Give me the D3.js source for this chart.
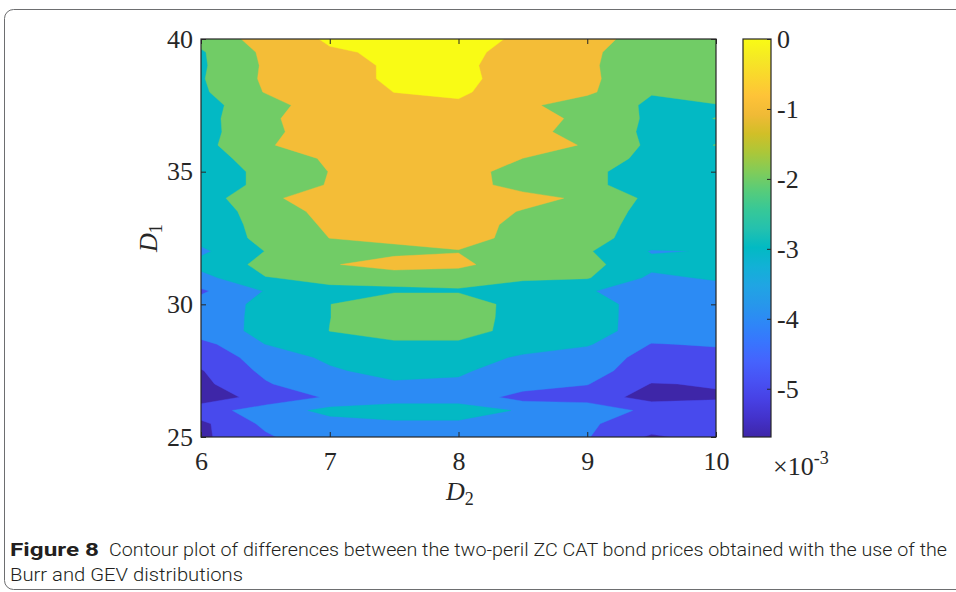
<!DOCTYPE html>
<html>
<head>
<meta charset="utf-8">
<script src="https://cdnjs.cloudflare.com/ajax/libs/d3/7.8.5/d3.min.js"></script>
<style>
  body { margin: 0; background: #fff; }
  svg { display: block; }
</style>
</head>
<body>
<div id="plot"></div>
<script>
const w = 956;
const h = 592;
const plot = {left: 201, right: 716, top: 39, bottom: 437};
const cbar = {left: 743, right: 771};

// grid of the contour plot
const d2Values = [6, 6.5, 7, 7.5, 8, 8.5, 9, 9.5, 10];
const d1Values = [25, 25.5, 26, 26.5, 27, 27.5, 28, 28.5, 29, 29.5, 30, 30.5, 31, 31.5, 32, 32.5,
  33, 33.5, 34, 34.5, 35, 35.5, 36, 36.5, 37, 37.5, 38, 38.5, 39, 39.5, 40];

// price differences in units of 1e-3, one row per D1 (25 -> 40), one column per D2 (6 -> 10)
const diffRows = [
  [-5.19, -4.15, -3.24, -3.30, -3.40, -3.60, -3.94, -5.15, -4.63],
  [-5.22, -3.79, -3.40, -3.11, -3.11, -3.50, -3.90, -4.40, -4.50],
  [-4.40, -3.58, -2.70, -2.69, -2.69, -3.07, -3.28, -4.30, -4.60],
  [-5.59, -4.60, -3.89, -3.30, -3.30, -4.41, -4.50, -5.37, -5.10],
  [-5.24, -4.10, -3.25, -3.15, -3.17, -3.50, -3.96, -5.04, -4.94],
  [-5.06, -3.77, -3.15, -2.61, -2.85, -3.52, -3.70, -4.43, -4.50],
  [-4.50, -3.67, -2.78, -2.40, -2.50, -3.15, -3.50, -4.31, -4.30],
  [-4.33, -2.99, -2.40, -2.16, -2.12, -2.50, -2.90, -4.04, -3.92],
  [-3.40, -2.80, -1.99, -1.60, -1.70, -2.27, -2.60, -3.45, -3.50],
  [-3.50, -2.76, -2.01, -1.50, -1.55, -2.34, -2.60, -3.43, -3.50],
  [-3.60, -2.74, -2.01, -1.51, -1.51, -2.35, -2.60, -3.42, -3.50],
  [-4.15, -2.95, -2.14, -2.08, -2.08, -2.71, -2.95, -3.32, -3.40],
  [-3.34, -2.03, -1.85, -1.85, -1.70, -1.80, -1.93, -3.19, -2.89],
  [-2.66, -1.75, -1.12, -0.40, -0.73, -1.73, -1.70, -2.73, -2.80],
  [-3.19, -1.98, -1.50, -1.37, -1.04, -1.30, -1.90, -3.07, -2.95],
  [-2.66, -1.75, -0.99, -0.70, -0.70, -1.24, -1.75, -2.35, -2.50],
  [-2.78, -1.60, -0.86, -0.50, -0.50, -1.29, -1.70, -2.28, -2.40],
  [-2.66, -1.50, -0.71, -0.40, -0.40, -1.07, -1.50, -2.29, -2.40],
  [-2.51, -1.20, -0.49, -0.40, -0.40, -0.60, -1.23, -2.22, -2.30],
  [-2.70, -1.70, -0.93, -0.50, -0.50, -1.44, -1.80, -2.43, -2.50],
  [-2.70, -1.70, -0.98, -0.50, -0.50, -1.50, -1.80, -2.43, -2.50],
  [-2.48, -1.50, -0.88, -0.40, -0.40, -1.005, -1.50, -2.27, -2.30],
  [-2.32, -1.10, -0.45, -0.30, -0.20, -0.50, -1.09, -2.20, -1.99],
  [-2.36, -1.25, -0.44, -0.25, -0.15, -0.60, -1.47, -2.17, -2.15],
  [-2.36, -1.20, -0.37, -0.20, -0.10, -0.60, -1.23, -2.18, -1.99],
  [-2.30, -1.47, -0.30, -0.20, -0.03, -0.80, -1.51, -2.13, -2.08],
  [-2.16, -0.95, -0.30, 0.005, 0.03, -0.11, -0.83, -1.96, -1.30],
  [-2.08, -0.85, -0.21, 0.08, 0.07, -0.12, -0.88, -1.43, -1.50],
  [-2.13, -0.88, -0.26, 0.10, 0.06, -0.13, -0.90, -1.43, -1.55],
  [-2.10, -0.81, -0.10, 0.13, 0.10, -0.13, -0.85, -1.48, -1.60],
  [-1.68, -0.59, 0.12, 0.15, 0.12, -0.05, -0.60, -1.49, -1.60]
];

const levels = [-5, -4, -3, -2, -1, 0];
const xTicks = [6, 7, 8, 9, 10];
const yTicks = [25, 30, 35, 40];
const cbarTicks = [0, -1, -2, -3, -4, -5];
const cbarLimits = [-5.69, 0];

// parula colormap, every third entry of the 64 colour table
const parulaColors = [
  [0.2422, 0.1504, 0.6603], [0.2647, 0.1978, 0.7952], [0.2783, 0.2559, 0.8991],
  [0.2810, 0.3228, 0.9579], [0.2699, 0.3892, 0.9906], [0.2206, 0.4603, 0.9973],
  [0.1786, 0.5289, 0.9682], [0.1540, 0.5902, 0.9218], [0.1248, 0.6459, 0.8883],
  [0.0689, 0.6948, 0.8394], [0.0067, 0.7312, 0.7660], [0.1408, 0.7584, 0.6842],
  [0.2161, 0.7843, 0.5923], [0.3406, 0.8008, 0.4789], [0.5044, 0.7993, 0.3480],
  [0.6720, 0.7793, 0.2227], [0.8203, 0.7498, 0.1535], [0.9393, 0.7288, 0.2100],
  [0.9970, 0.7659, 0.2199], [0.9786, 0.8386, 0.1766], [0.9597, 0.9135, 0.1423],
  [0.9769, 0.9839, 0.0805]
].map(c => d3.rgb(c[0] * 255, c[1] * 255, c[2] * 255).formatHex());

const parula = d3.scaleLinear().
  domain(parulaColors.map((c, i) => cbarLimits[0] + i * (cbarLimits[1] - cbarLimits[0]) / (parulaColors.length - 1))).
  range(parulaColors).
  interpolate(d3.interpolateRgb).
  clamp(true);

const xScale = d3.scaleLinear().domain([6, 10]).range([plot.left, plot.right]);
const yScale = d3.scaleLinear().domain([25, 40]).range([plot.bottom, plot.top]);
const cScale = d3.scaleLinear().domain(cbarLimits).range([plot.bottom, plot.top]);

const svg = d3.select("#plot").
  append("svg").
  attr("width", w).
  attr("height", h);

// figure frame
svg.append("rect").
  attr("x", 4.5).
  attr("y", 9.5).
  attr("width", 1000).
  attr("height", 580).
  attr("rx", 9).
  attr("fill", "none").
  attr("stroke", "#6d6e70").
  attr("stroke-width", 1);

svg.append("clipPath").
  attr("id", "clip").
  append("rect").
  attr("x", plot.left).
  attr("y", plot.top).
  attr("width", plot.right - plot.left).
  attr("height", plot.bottom - plot.top);

// contours: grid value i sits at i + 0.5 in d3.contours coordinates
const nx = d2Values.length;
const ny = d1Values.length;
const gx = d3.scaleLinear().domain([0.5, nx - 0.5]).range([xScale(d2Values[0]), xScale(d2Values[nx - 1])]);
const gy = d3.scaleLinear().domain([0.5, ny - 0.5]).range([yScale(d1Values[0]), yScale(d1Values[ny - 1])]);

const contours = d3.contours().
  size([nx, ny]).
  thresholds(levels)(diffRows.flat());

const path = d3.geoPath(d3.geoTransform({
  point: function (x, y) {
    this.stream.point(gx(x), gy(y));
  }
}));

const field = svg.append("g").attr("clip-path", "url(#clip)");

field.append("rect").
  attr("x", plot.left).
  attr("y", plot.top).
  attr("width", plot.right - plot.left).
  attr("height", plot.bottom - plot.top).
  attr("fill", parula(cbarLimits[0]));

field.selectAll("path").
  data(contours).
  enter().
  append("path").
  attr("d", path).
  attr("fill", d => parula(d.value)).
  attr("stroke", d => parula(d.value)).
  attr("stroke-width", 0.4);

// axes
const tickFont = "'Liberation Serif', 'Times New Roman', serif";
const ink = "#262626";

function styleAxis(g) {
  g.select(".domain").remove();
  g.selectAll(".tick line").attr("stroke", ink);
  g.selectAll(".tick text").
    attr("fill", ink).
    style("font-family", tickFont).
    style("font-size", "26px");
}

svg.append("g").
  attr("transform", "translate(0," + plot.bottom + ")").
  call(d3.axisBottom(xScale).tickValues(xTicks).tickSize(-5).tickPadding(15).tickFormat(d3.format("d"))).
  call(styleAxis);

svg.append("g").
  attr("transform", "translate(0," + plot.top + ")").
  call(d3.axisTop(xScale).tickValues(xTicks).tickSize(-5).tickFormat("")).
  call(styleAxis);

svg.append("g").
  attr("transform", "translate(" + plot.left + ",0)").
  call(d3.axisLeft(yScale).tickValues(yTicks).tickSize(-5).tickPadding(8).tickFormat(d3.format("d"))).
  call(styleAxis);

svg.append("g").
  attr("transform", "translate(" + plot.right + ",0)").
  call(d3.axisRight(yScale).tickValues(yTicks).tickSize(-5).tickFormat("")).
  call(styleAxis);

svg.append("rect").
  attr("x", plot.left).
  attr("y", plot.top).
  attr("width", plot.right - plot.left).
  attr("height", plot.bottom - plot.top).
  attr("fill", "none").
  attr("stroke", ink).
  attr("stroke-width", 1.2);

// axis labels
const xLabel = svg.append("text").
  attr("x", 446).
  attr("y", 500).
  attr("fill", ink).
  style("font-family", tickFont).
  style("font-size", "26px");
xLabel.append("tspan").style("font-style", "italic").text("D");
xLabel.append("tspan").attr("dy", 5).style("font-size", "18px").text("2");

const yLabel = svg.append("text").
  attr("transform", "translate(157,252) rotate(-90)").
  attr("fill", ink).
  style("font-family", tickFont).
  style("font-size", "26px");
yLabel.append("tspan").style("font-style", "italic").text("D");
yLabel.append("tspan").attr("dy", 5).style("font-size", "18px").text("1");

// colorbar
const grad = svg.append("defs").
  append("linearGradient").
  attr("id", "parula").
  attr("x1", 0).attr("y1", 1).
  attr("x2", 0).attr("y2", 0);

grad.selectAll("stop").
  data(parulaColors).
  enter().
  append("stop").
  attr("offset", (d, i) => i / (parulaColors.length - 1)).
  attr("stop-color", d => d);

svg.append("rect").
  attr("x", cbar.left).
  attr("y", cScale(cbarLimits[1])).
  attr("width", cbar.right - cbar.left).
  attr("height", cScale(cbarLimits[0]) - cScale(cbarLimits[1])).
  attr("fill", "url(#parula)").
  attr("stroke", ink).
  attr("stroke-width", 1.2);

svg.append("g").
  attr("transform", "translate(" + cbar.right + ",0)").
  call(d3.axisRight(cScale).tickValues(cbarTicks).tickSize(-4).tickPadding(6).tickFormat(d => String(d))).
  call(styleAxis);

const expLabel = svg.append("text").
  attr("x", 773).
  attr("y", 475).
  attr("fill", ink).
  style("font-family", tickFont).
  style("font-size", "26px");
expLabel.append("tspan").text("\u00d710");
expLabel.append("tspan").attr("dy", -11).style("font-size", "18px").text("-3");

// caption
const capFont = "'Roboto', 'Noto Sans', sans-serif";
svg.append("text").
  attr("x", 10).
  attr("y", 556).
  attr("fill", "#231f20").
  attr("textLength", 89).
  attr("lengthAdjust", "spacingAndGlyphs").
  style("font-family", capFont).
  style("font-weight", "bold").
  style("font-size", "19px").
  text("Figure 8");

svg.append("text").
  attr("x", 109).
  attr("y", 556).
  attr("fill", "#231f20").
  attr("textLength", 838).
  attr("lengthAdjust", "spacingAndGlyphs").
  style("font-family", capFont).
  style("font-weight", 300).
  style("font-size", "19px").
  text("Contour plot of differences between the two-peril ZC CAT bond prices obtained with the use of the");

svg.append("text").
  attr("x", 10).
  attr("y", 581).
  attr("fill", "#231f20").
  attr("textLength", 233).
  attr("lengthAdjust", "spacingAndGlyphs").
  style("font-family", capFont).
  style("font-weight", 300).
  style("font-size", "19px").
  text("Burr and GEV distributions");
</script>
</body>
</html>
